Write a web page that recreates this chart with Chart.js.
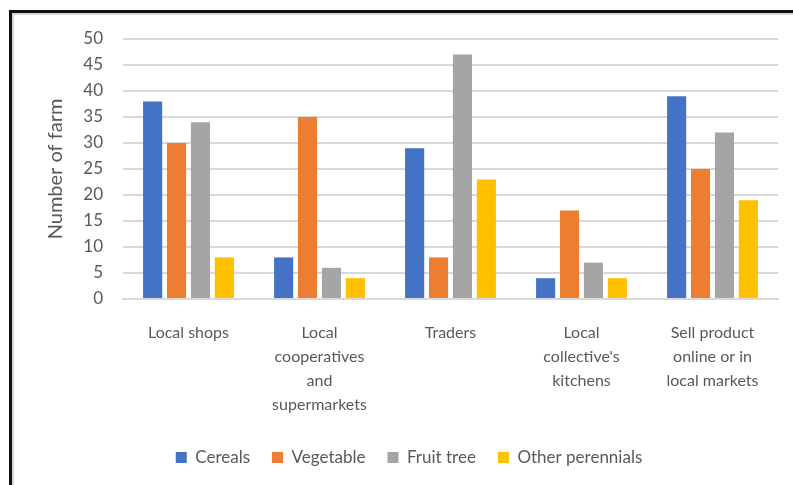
<!DOCTYPE html>
<html>
<head>
<meta charset="utf-8">
<script src="https://cdn.jsdelivr.net/npm/chart.js@4/dist/chart.umd.min.js"></script>
<style>
html,body{margin:0;padding:0;background:#fff;}
#wrap{position:relative;width:793px;height:485px;overflow:hidden;}
#frame{position:absolute;left:9px;top:10px;width:800px;height:500px;border-top:3px solid #111;border-left:3px solid #111;box-shadow:inset 2px 2px 0 #d6d6d6;pointer-events:none;}
canvas{position:absolute;left:0;top:0;}
</style>
</head>
<body>
<div id="wrap">
<canvas id="c" width="793" height="485"></canvas>
<div id="frame"></div>
</div>
<script>
const categories = [
  "Local shops",
  ["Local", "cooperatives", "and", "supermarkets"],
  "Traders",
  ["Local", "collective's", "kitchens"],
  ["Sell product", "online or in", "local markets"]
];
const cereals = [38, 8, 29, 4, 39];
const vegetable = [30, 35, 8, 17, 25];
const fruitTree = [34, 6, 47, 7, 32];
const otherPerennials = [8, 4, 23, 4, 19];
const seriesNames = ["Cereals", "Vegetable", "Fruit tree", "Other perennials"];
const seriesColors = ["#4472C4", "#ED7D31", "#A5A5A5", "#FFC000"];
const yTitle = "Number of farm";

const seriesValues = [cereals, vegetable, fruitTree, otherPerennials];
const textColor = "#595959";
const fontFamily = "Lato, 'Open Sans', sans-serif";

new Chart(document.getElementById("c"), {
  type: "bar",
  data: {
    labels: categories,
    datasets: seriesNames.map((n, i) => ({
      label: n,
      data: seriesValues[i],
      backgroundColor: seriesColors[i],
      borderWidth: 0,
      barPercentage: 0.8,
      categoryPercentage: 0.73
    }))
  },
  options: {
    responsive: false,
    animation: false,
    devicePixelRatio: 1,
    layout: { padding: { left: 40, right: 15, top: 39, bottom: 9 } },
    plugins: {
      tooltip: { enabled: false },
      legend: {
        position: "bottom",
        labels: {
          boxWidth: 11,
          boxHeight: 11,
          padding: 22,
          color: textColor,
          font: { family: fontFamily, size: 17 }
        }
      }
    },
    scales: {
      x: {
        grid: { display: false, drawTicks: false },
        border: { display: true, color: "#d9d9d9", width: 2 },
        ticks: {
          color: textColor,
          padding: 22,
          maxRotation: 0,
          autoSkip: false,
          font: { family: fontFamily, size: 16, lineHeight: 1.5 }
        },
        afterFit: (s) => { s.height = 128; }
      },
      y: {
        min: 0,
        max: 50,
        grid: { color: "#d9d9d9", lineWidth: 2, drawTicks: false },
        border: { display: false },
        ticks: {
          stepSize: 5,
          color: textColor,
          padding: 20,
          font: { family: fontFamily, size: 17 }
        },
        title: {
          display: true,
          text: yTitle,
          color: textColor,
          font: { family: fontFamily, size: 20 }
        },
        afterFit: (s) => { s.width = 83; }
      }
    }
  }
});
</script>
</body>
</html>
